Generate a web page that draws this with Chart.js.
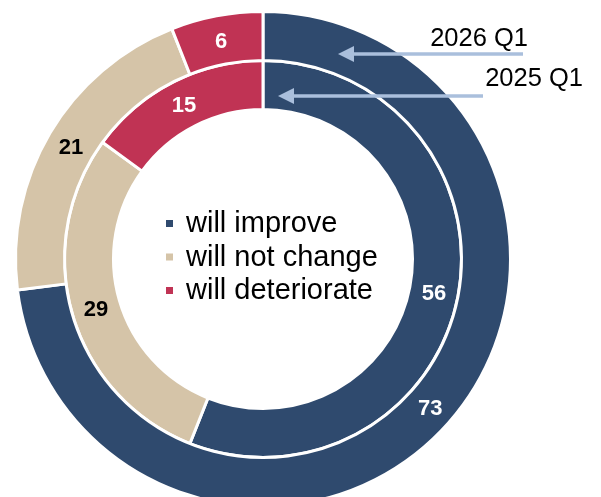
<!DOCTYPE html>
<html lang="en">
<head>
  <meta charset="UTF-8" />
  <title>Expectations doughnut</title>
  <script src="https://cdn.jsdelivr.net/npm/chart.js"></script>
  <style>
    html, body { margin: 0; padding: 0; background: #fff; }
    #wrap { position: relative; width: 601px; height: 497px; overflow: hidden; }
    #chart { position: absolute; left: 0; top: 0; }
  </style>
</head>
<body>
  <div id="wrap">
    <canvas id="chart" width="601" height="540"></canvas>
  </div>

  <script>
    // data
    const categories = ['will improve', 'will not change', 'will deteriorate'];
    const periods = ['2026 Q1', '2025 Q1'];   // outer ring, inner ring
    const values2026 = [73, 21, 6];
    const values2025 = [56, 29, 15];
    const colors = ['#2f4a6e', '#d5c4a8', '#c03354'];
    const labelColors = ['#ffffff', '#000000', '#ffffff'];

    const FONT = '"Liberation Sans", Arial, sans-serif';

    function drawArrow(ctx, x1, x2, y) {
      // tail at x1, head at x2 (pointing left)
      ctx.save();
      ctx.strokeStyle = '#aabfdc';
      ctx.fillStyle = '#aabfdc';
      ctx.lineWidth = 3.5;
      ctx.beginPath();
      ctx.moveTo(x1, y);
      ctx.lineTo(x2 + 12, y);
      ctx.stroke();
      ctx.beginPath();
      ctx.moveTo(x2, y);
      ctx.lineTo(x2 + 16, y - 8);
      ctx.lineTo(x2 + 16, y + 8);
      ctx.closePath();
      ctx.fill();
      ctx.restore();
    }

    const overlay = {
      id: 'overlay',
      afterDatasetsDraw(chart) {
        const ctx = chart.ctx;
        const meta0 = chart.getDatasetMeta(0);
        const cx = meta0.data[0].x;
        const cy = meta0.data[0].y;

        // value labels in each slice
        ctx.save();
        ctx.font = 'bold 22px ' + FONT;
        ctx.textAlign = 'center';
        ctx.textBaseline = 'middle';
        chart.data.datasets.forEach((ds, di) => {
          chart.getDatasetMeta(di).data.forEach((arc, i) => {
            const p = arc.getCenterPoint();
            ctx.fillStyle = labelColors[i];
            ctx.fillText(ds.data[i], p.x, p.y + 2);
          });
        });
        ctx.restore();

        // legend in the hole
        ctx.save();
        ctx.font = '29px ' + FONT;
        ctx.textBaseline = 'middle';
        ctx.textAlign = 'left';
        categories.forEach((c, i) => {
          const y = cy - 36 + i * 33.5;
          ctx.fillStyle = colors[i];
          ctx.fillRect(cx - 97, y - 3, 7, 7);
          ctx.fillStyle = '#000';
          ctx.fillText(c, cx - 77, y + 1);
        });
        ctx.restore();

        // period markers
        drawArrow(ctx, cx + 260, cx + 75, cy - 205);
        drawArrow(ctx, cx + 220, cx + 15, cy - 163);
        ctx.save();
        ctx.font = '25.5px ' + FONT;
        ctx.fillStyle = '#000';
        ctx.textAlign = 'right';
        ctx.textBaseline = 'middle';
        ctx.fillText(periods[0], cx + 265, cy - 220);
        ctx.fillText(periods[1], cx + 320, cy - 180);
        ctx.restore();
      }
    };

    new Chart(document.getElementById('chart'), {
      type: 'doughnut',
      data: {
        labels: categories,
        datasets: [
          { label: periods[0], data: values2026, backgroundColor: colors, borderColor: '#ffffff', borderWidth: 3 },
          { label: periods[1], data: values2025, backgroundColor: colors, borderColor: '#ffffff', borderWidth: 3 }
        ]
      },
      options: {
        responsive: false,
        animation: false,
        devicePixelRatio: 1,
        cutout: '60.4%',
        layout: { padding: { left: 14, top: 10, right: 89, bottom: 32 } },
        plugins: {
          legend: { display: false },
          tooltip: { enabled: false }
        }
      },
      plugins: [overlay]
    });
  </script>
</body>
</html>
